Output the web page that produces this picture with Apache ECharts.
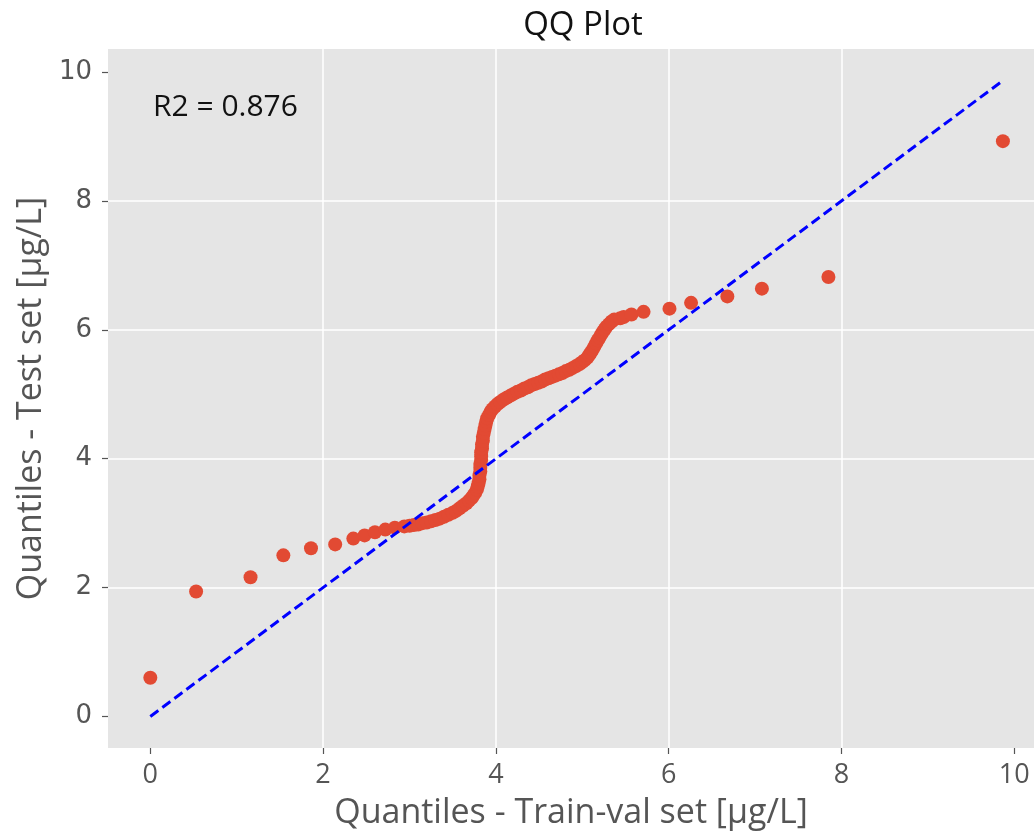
<!DOCTYPE html>
<html>
<head>
<meta charset="utf-8">
<script src="https://cdn.jsdelivr.net/npm/echarts@6/dist/echarts.min.js"></script>
<style>
html,body{margin:0;padding:0;background:#fff;}
#chart{width:1034px;height:837px;}
</style>
</head>
<body>
<div id="chart"></div>
<script>
// Quantiles of the train-val set (x) and of the test set (y)
const trainQuantiles = [
  0.00,0.53,1.16,1.54,1.86,2.14,2.35,2.48,2.60,2.72,2.83,2.94,
  3.00,3.05,3.10,3.15,3.20,3.25,3.30,3.35,3.40,3.45,3.50,3.54,3.58,3.62,3.66,3.69,3.72,3.74,3.76,3.78,3.79,3.80,
  3.81,3.81,3.82,3.82,3.82,3.83,3.83,3.83,3.84,3.84,3.85,3.85,3.86,3.87,3.88,
  3.89,3.90,3.92,3.94,3.96,3.99,4.02,4.05,4.09,4.13,4.17,
  4.21,4.25,4.29,4.33,4.37,4.41,4.45,4.49,4.53,4.57,4.61,4.65,4.69,4.73,4.77,4.81,4.85,4.89,4.93,
  4.97,5.00,5.03,5.06,5.08,5.10,5.12,5.14,5.16,5.18,5.20,5.22,5.24,5.26,5.28,5.31,5.34,5.37,
  5.44,5.48,5.57,5.71,6.01,6.26,6.68,7.08,7.85,9.87
];
const testQuantiles = [
  0.60,1.94,2.16,2.50,2.61,2.67,2.76,2.81,2.86,2.90,2.93,2.95,
  2.96,2.97,2.98,3.00,3.01,3.03,3.05,3.07,3.10,3.13,3.16,3.19,3.23,3.27,3.31,3.35,3.39,3.43,3.47,3.52,3.57,3.62,
  3.68,3.74,3.80,3.86,3.92,3.98,4.04,4.10,4.16,4.22,4.28,4.34,4.40,4.46,4.52,
  4.58,4.63,4.68,4.73,4.77,4.81,4.85,4.88,4.92,4.95,4.98,
  5.01,5.04,5.06,5.09,5.11,5.14,5.16,5.18,5.20,5.23,5.25,5.27,5.29,5.31,5.33,5.36,5.38,5.41,5.44,
  5.47,5.50,5.53,5.57,5.61,5.65,5.69,5.74,5.79,5.84,5.88,5.93,5.97,6.01,6.05,6.09,6.13,6.16,
  6.18,6.20,6.24,6.28,6.33,6.42,6.52,6.64,6.82,8.93
];
// 1:1 reference line
const refLineX = [0, 9.87];
const refLineY = [0, 9.87];
// tick labels
const xTicks = [0, 2, 4, 6, 8, 10];
const yTicks = [0, 2, 4, 6, 8, 10];
const titleText = 'QQ Plot';
const r2Text = 'R2 = 0.876';
const xName = 'Quantiles - Train-val set [μg/L]';
const yName = 'Quantiles - Test set [μg/L]';

const scatterData = trainQuantiles.map((x, i) => [x, testQuantiles[i]]);
const lineData = refLineX.map((x, i) => [x, refLineY[i]]);

const chart = echarts.init(document.getElementById('chart'), null, {renderer: 'canvas'});
chart.setOption({
  animation: false,
  backgroundColor: '#ffffff',
  title: {
    text: titleText,
    left: 578,
    top: 4,
    textAlign: 'center',
    textStyle: {fontFamily: 'Open Sans', fontSize: 33, fontWeight: 'normal', color: '#111'}
  },
  grid: {
    left: 108, top: 49, width: 926, height: 699,
    show: true, backgroundColor: '#E5E5E5', borderWidth: 0
  },
  xAxis: {
    type: 'value', min: -0.49, max: 10.23, splitNumber: 5,
    axisLine: {show: false, onZero: false},
    axisTick: {show: true, inside: false, customValues: xTicks, length: 6, lineStyle: {color: '#555', width: 1.2}},
    axisLabel: {customValues: xTicks, fontFamily: 'Open Sans', fontSize: 27, color: '#555', margin: 14},
    splitLine: {show: true, showMinLine: false, showMaxLine: false, lineStyle: {color: '#ffffff', width: 1.5}},
    name: xName, nameLocation: 'middle', nameGap: 48,
    nameTextStyle: {fontFamily: 'Open Sans', fontSize: 34, color: '#555'}
  },
  yAxis: {
    type: 'value', min: -0.49, max: 10.36, splitNumber: 5,
    axisLine: {show: false, onZero: false},
    axisTick: {show: true, inside: false, customValues: yTicks, length: 6, lineStyle: {color: '#555', width: 1.2}},
    axisLabel: {customValues: yTicks, fontFamily: 'DejaVu Sans', fontSize: 26, color: '#555', margin: 16},
    splitLine: {show: true, showMinLine: false, showMaxLine: false, lineStyle: {color: '#ffffff', width: 1.5}},
    name: yName, nameLocation: 'middle', nameGap: 58,
    nameTextStyle: {fontFamily: 'Open Sans', fontSize: 34, color: '#555'}
  },
  graphic: [{
    type: 'text', left: 153, top: 92, z: 100,
    style: {text: r2Text, font: '30px "Open Sans"', fill: '#111'}
  }],
  series: [
    {
      type: 'scatter', data: scatterData, symbolSize: 14, z: 2,
      itemStyle: {color: '#E24A33', opacity: 1}
    },
    {
      type: 'line', data: lineData, showSymbol: false, z: 3, silent: true,
      lineStyle: {color: '#0000FF', width: 3, type: [10, 5]}
    }
  ]
});
</script>
</body>
</html>
